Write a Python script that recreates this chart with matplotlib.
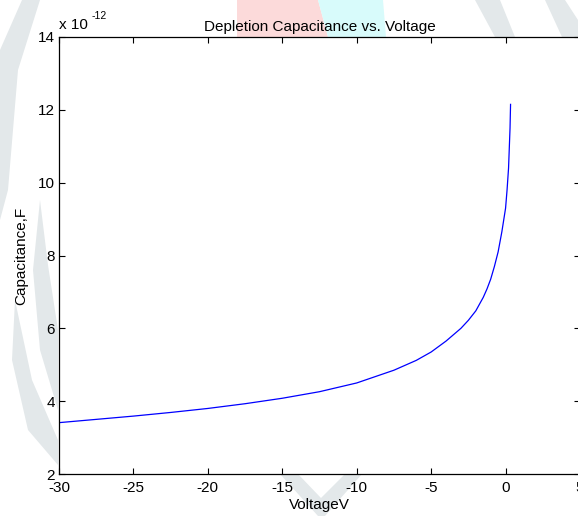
import matplotlib.pyplot as plt
from matplotlib.patches import Polygon
from matplotlib.ticker import FuncFormatter

plt.rcParams['font.family'] = ['Liberation Sans', 'DejaVu Sans']
plt.rcParams['axes.unicode_minus'] = False

# values (voltage in V, capacitance in F)
voltage = [-30, -27.5, -25, -22.5, -20, -17.5, -15, -12.5, -10, -7.5, -6, -5,
           -4, -3, -2.5, -2, -1.5, -1.25, -1, -0.75, -0.5, -0.25, 0, 0.1,
           0.2, 0.3, 0.335]
capacitance = [3.41, 3.50, 3.59, 3.69, 3.80, 3.93, 4.08, 4.26, 4.50, 4.85, 5.12,
               5.35, 5.65, 6.00, 6.22, 6.48, 6.85, 7.08, 7.35, 7.70, 8.10, 8.65,
               9.30, 9.80, 10.40, 11.50, 12.15]
capacitance = [c * 1e-12 for c in capacitance]

xticks = [-30, -25, -20, -15, -10, -5, 0, 5]
yticks = [2e-12, 4e-12, 6e-12, 8e-12, 10e-12, 12e-12, 14e-12]

W, H = 578, 518
fig = plt.figure(figsize=(W / 100, H / 100), dpi=100)

# faint watermark in a background layer
bg = fig.add_axes([0, 0, 1, 1], zorder=-1)
bg.set_xlim(0, W)
bg.set_ylim(H, 0)
bg.axis('off')
wm = '#e3e8ea'
shapes = [
    [(0, 50), (22, 0), (40, 0), (18, 70), (8, 190), (0, 220)],
    [(40, 200), (33, 270), (40, 350), (58, 410), (58, 330), (48, 265)],
    [(15, 300), (12, 360), (28, 430), (58, 465), (58, 440), (32, 380)],
    [(280, 474), (318, 516), (325, 516), (362, 474), (345, 474), (321, 498), (298, 474)],
    [(475, 0), (500, 0), (515, 37), (495, 37)],
    [(545, 0), (565, 0), (578, 20), (578, 37), (562, 37)],
]
for s in shapes:
    bg.add_patch(Polygon(s, closed=True, facecolor=wm, edgecolor='none'))
bg.add_patch(Polygon([(237, 0), (318, 0), (328, 37), (237, 37)], closed=True,
                     facecolor='#fcdada', edgecolor='none'))
bg.add_patch(Polygon([(318, 0), (383, 0), (386, 37), (328, 37)], closed=True,
                     facecolor='#d8fbfb', edgecolor='none'))

ax = fig.add_axes([59 / W, 44 / H, 521 / W, 437 / H])
ax.plot(voltage, capacitance, color='blue', linewidth=0.9)

ax.set_xlim(-30, 5)
ax.set_ylim(2e-12, 14e-12)
ax.set_xticks(xticks)
ax.set_yticks(yticks)
ax.yaxis.set_major_formatter(FuncFormatter(lambda v, p: f'{v / 1e-12:g}'))
ax.tick_params(direction='in', length=4, width=0.8, top=True, right=True,
               labelsize=11, colors='black')
ax.tick_params(axis='x', pad=5)
ax.tick_params(axis='y', pad=3)
for sp in ax.spines.values():
    sp.set_linewidth(0.9)

ax.set_title('Depletion Capacitance vs. Voltage', fontsize=11, pad=4)
ax.set_xlabel('VoltageV', fontsize=11, labelpad=2)
ax.set_ylabel('Capacitance,F', fontsize=11, labelpad=7)

ax.text(0.0, 1.012, 'x 10', transform=ax.transAxes, fontsize=11,
        ha='left', va='bottom')
ax.text(0.062, 1.037, '-12', transform=ax.transAxes, fontsize=7.5,
        ha='left', va='bottom')

fig.savefig('out.png', dpi=100)
